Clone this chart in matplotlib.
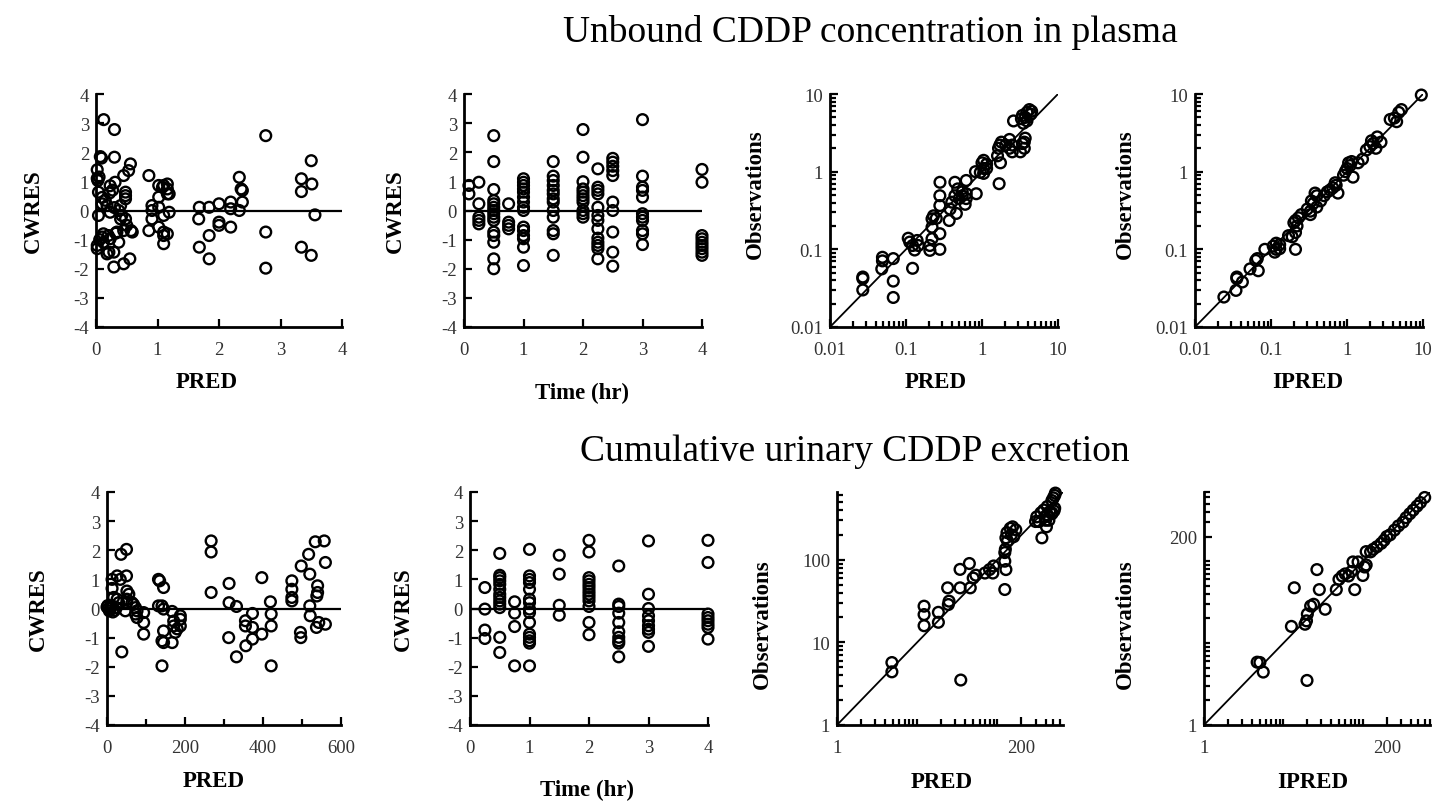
import numpy as np
import matplotlib.pyplot as plt
from matplotlib.ticker import LogLocator, NullFormatter

plt.rcParams['font.family'] = ['Liberation Serif', 'DejaVu Serif']
plt.rcParams['axes.unicode_minus'] = False

# ---- data ----
# top row: unbound CDDP in plasma
plasma_pred_cwres = [
    (0.125, 3.12), (0.30, 2.78), (0.07, 1.85), (0.09, 1.80), (0.30, 1.83), (0.02, 1.40),
    (0.02, 1.10), (0.03, 1.03), (0.05, 1.15), (0.04, 0.63), (0.10, 0.45), (0.10, 0.23),
    (0.04, -0.17), (0.23, 0.85), (0.31, 0.97), (0.45, 1.20), (0.56, 1.60), (0.53, 1.37),
    (0.48, 0.63), (0.48, 0.51), (0.48, 0.40), (0.40, 0.17), (0.37, 0.00), (0.42, -0.17),
    (0.40, -0.29), (0.23, -0.06), (0.18, 0.17), (0.02, -1.20), (0.02, -1.31), (0.10, -0.91),
    (0.12, -1.09), (0.20, -0.86), (0.23, -0.97), (0.18, -1.49), (0.21, -1.43), (0.29, -1.43),
    (0.29, -1.94), (0.45, -1.83), (0.55, -1.66), (0.37, -1.09), (0.34, -0.74), (0.32, -0.78),
    (0.45, -0.69), (0.57, -0.69), (0.59, -0.74), (0.48, -0.29), (0.50, -0.51), (0.15, 0.35),
    (0.22, 0.60), (0.27, 0.70), (0.30, 0.10), (0.12, -0.80), (0.06, -1.00),
    (0.86, 1.20), (0.86, -0.69), (0.91, 0.00), (0.91, 0.17), (0.91, -0.29), (1.02, 0.86),
    (1.02, 0.46), (1.02, 0.11), (1.08, 0.80), (1.10, 0.86), (1.16, 0.91), (1.16, 0.74),
    (1.16, 0.57), (1.19, 0.57), (1.10, -0.74), (1.10, -0.86), (1.10, -1.14), (1.16, -0.80),
    (1.10, -0.17), (1.19, -0.06), (1.02, -0.57), (1.68, 0.11), (1.67, -0.29), (1.68, -1.26),
    (1.84, 0.11), (1.84, -0.86), (1.84, -1.66), (2.00, 0.23), (2.00, -0.40), (2.00, -0.51),
    (2.19, 0.29), (2.19, 0.06), (2.19, -0.57), (2.33, 1.14), (2.36, 0.74), (2.38, 0.69),
    (2.38, 0.29), (2.33, 0.00), (2.76, 2.57), (2.76, -0.74), (2.76, -1.98), (3.34, 1.09),
    (3.34, 0.65), (3.34, -1.26), (3.50, 1.71), (3.51, 0.91), (3.50, -1.54), (3.56, -0.15),
]

plasma_time_cwres = [
    (0.083, 0.86), (0.083, 0.57),
    (0.25, 0.97), (0.25, 0.23), (0.25, -0.23), (0.25, -0.34), (0.25, -0.46),
    (0.5, 2.57), (0.5, 1.68), (0.5, 0.72), (0.5, 0.34), (0.5, 0.23), (0.5, 0.11), (0.5, 0.0),
    (0.5, -0.11), (0.5, -0.23), (0.5, -0.34), (0.5, -0.74), (0.5, -0.86), (0.5, -1.09),
    (0.5, -1.66), (0.5, -2.0),
    (0.75, 0.23), (0.75, -0.40), (0.75, -0.51), (0.75, -0.63),
    (1, 1.09), (1, 0.97), (1, 0.86), (1, 0.74), (1, 0.63), (1, 0.46), (1, 0.29), (1, 0.11),
    (1, 0.0), (1, -0.57), (1, -0.69), (1, -0.86), (1, -0.97), (1, -1.26), (1, -1.89),
    (1.5, 1.68), (1.5, 1.18), (1.5, 1.03), (1.5, 0.86), (1.5, 0.69), (1.5, 0.57), (1.5, 0.40),
    (1.5, 0.29), (1.5, 0.0), (1.5, -0.23), (1.5, -0.69), (1.5, -0.80), (1.5, -1.54),
    (2, 2.78), (2, 1.83), (2, 0.99), (2, 0.74), (2, 0.63), (2, 0.51), (2, 0.40), (2, 0.29),
    (2, 0.0), (2, -0.11), (2, -0.23),
    (2.25, 1.43), (2.25, 0.80), (2.25, 0.69), (2.25, 0.57), (2.25, 0.11), (2.25, -0.17),
    (2.25, -0.34), (2.25, -0.63), (2.25, -0.95), (2.25, -1.09), (2.25, -1.20), (2.25, -1.31),
    (2.25, -1.66),
    (2.5, 1.79), (2.5, 1.66), (2.5, 1.52), (2.5, 1.37), (2.5, 1.20), (2.5, 0.29), (2.5, 0.0),
    (2.5, -0.74), (2.5, -1.43), (2.5, -1.91),
    (3, 3.12), (3, 1.18), (3, 0.80), (3, 0.69), (3, 0.46), (3, -0.11), (3, -0.23), (3, -0.34),
    (3, -0.69), (3, -0.80), (3, -1.17),
    (4, 1.41), (4, 0.97), (4, -0.86), (4, -0.97), (4, -1.09), (4, -1.20), (4, -1.31),
    (4, -1.43), (4, -1.54),
]

plasma_pred_obs = [
    (0.027, 0.044), (0.027, 0.042), (0.027, 0.030), (0.049, 0.079), (0.049, 0.071),
    (0.048, 0.056), (0.068, 0.076), (0.068, 0.039), (0.068, 0.024), (0.122, 0.057),
    (0.107, 0.139), (0.112, 0.124), (0.122, 0.112), (0.14, 0.13), (0.145, 0.112), (0.13, 0.098),
    (0.206, 0.112), (0.206, 0.097), (0.22, 0.137), (0.22, 0.247), (0.22, 0.193), (0.23, 0.27),
    (0.25, 0.25), (0.279, 0.10), (0.279, 0.159), (0.279, 0.366), (0.279, 0.49), (0.28, 0.73),
    (0.37, 0.235), (0.38, 0.33), (0.40, 0.405), (0.44, 0.49), (0.48, 0.60), (0.44, 0.73),
    (0.46, 0.29), (0.50, 0.45), (0.55, 0.49), (0.55, 0.55), (0.62, 0.77), (0.62, 0.52),
    (0.60, 0.38), (0.62, 0.45), (0.84, 0.52), (0.82, 1.0), (0.95, 0.98), (1.05, 0.95),
    (1.05, 1.1), (1.15, 1.25), (1.05, 1.4), (1.15, 1.1), (1.0, 1.3), (1.68, 0.70), (1.75, 1.3),
    (1.6, 1.6), (1.65, 2.0), (1.72, 2.2), (1.8, 2.4), (2.05, 2.2), (2.3, 2.6), (2.5, 2.2),
    (2.3, 2.0), (2.5, 1.8), (3.2, 1.8), (3.4, 2.3), (3.6, 2.0), (3.6, 2.4), (3.7, 2.7),
    (2.6, 4.5), (3.3, 4.8), (3.5, 4.2), (3.7, 5.0), (3.9, 5.8), (4.2, 6.3), (3.4, 5.3),
    (3.9, 4.5), (4.4, 5.5), (4.5, 6.0),
]

plasma_ipred_obs = [
    (0.024, 0.0243), (0.0346, 0.0296), (0.0355, 0.042), (0.0355, 0.044), (0.042, 0.038),
    (0.053, 0.056), (0.068, 0.053), (0.066, 0.076), (0.063, 0.072), (0.083, 0.10),
    (0.107, 0.11), (0.117, 0.12), (0.13, 0.115), (0.117, 0.10), (0.13, 0.102), (0.112, 0.092),
    (0.17, 0.15), (0.19, 0.145), (0.21, 0.165), (0.20, 0.22), (0.21, 0.235), (0.23, 0.255),
    (0.22, 0.20), (0.21, 0.10), (0.25, 0.28), (0.30, 0.33), (0.33, 0.31), (0.36, 0.39),
    (0.40, 0.49), (0.38, 0.53), (0.34, 0.42), (0.33, 0.28), (0.40, 0.35), (0.45, 0.42),
    (0.50, 0.49), (0.55, 0.55), (0.60, 0.58), (0.65, 0.62), (0.70, 0.72), (0.76, 0.53),
    (0.72, 0.67), (0.9, 0.9), (1.0, 1.1), (1.1, 1.2), (0.95, 1.0), (1.05, 1.3), (1.2, 0.85),
    (1.15, 1.35), (1.4, 1.3), (1.6, 1.45), (1.8, 1.9), (2.0, 2.1), (2.1, 2.5), (2.2, 2.3),
    (2.5, 2.8), (2.4, 2.0), (2.8, 2.4), (3.7, 4.7), (4.2, 4.9), (4.8, 5.8), (5.2, 6.3),
    (4.5, 4.4), (9.5, 9.7),
]

# bottom row: cumulative urinary excretion
urine_pred_cwres = [
    (2, 0.10), (4, 0.0), (6, -0.08), (0, 0.05), (10, 0.02), (15, -0.12), (12, 0.10),
    (20, -0.06), (24, 0.03), (13, 1.00), (13, 0.69), (17, 0.38), (26, 0.32), (30, 0.20),
    (26, 1.12), (34, 1.00), (50, 1.12), (36, 1.86), (50, 2.03), (38, -1.49), (51, 0.60),
    (56, 0.49), (51, 0.32), (51, 0.20), (47, -0.08), (64, 0.20), (68, 0.14), (73, 0.03),
    (77, -0.08), (73, -0.19), (77, -0.31), (94, -0.14), (94, -0.48), (94, -0.88),
    (132, 1.00), (135, 0.95), (132, 0.09), (145, 0.72), (141, 0.09), (145, -0.02),
    (141, -1.11), (145, -1.17), (145, -0.77), (141, -1.97), (167, -0.10), (171, -0.43),
    (171, -0.60), (175, -0.82), (180, -0.70), (188, -0.37), (188, -0.25), (188, -0.60),
    (167, -1.17), (267, 2.32), (267, 1.94), (267, 0.55), (313, 0.86), (313, 0.20),
    (312, -1.00), (332, 0.07), (332, -1.66), (355, -0.42), (355, -0.60), (356, -1.28),
    (373, -0.17), (373, -0.65), (373, -1.05), (397, -0.88), (397, 1.06), (419, 0.23),
    (421, -0.19), (421, -0.60), (421, -1.97), (474, 0.95), (474, 0.66), (474, 0.38),
    (474, 0.26), (496, -0.82), (497, -1.00), (498, 1.46), (517, 1.86), (520, 1.18),
    (520, 0.09), (521, -0.25), (534, 2.29), (537, -0.65), (540, 0.78), (540, 0.55),
    (538, 0.43), (543, -0.48), (557, 2.32), (560, 1.58), (560, -0.54),
]

urine_time_cwres = [
    (0.25, 0.72), (0.25, -0.02), (0.25, -0.74), (0.25, -1.03),
    (0.5, 1.89), (0.5, 1.14), (0.5, 1.06), (0.5, 0.95), (0.5, 0.83), (0.5, 0.66), (0.5, 0.49),
    (0.5, 0.38), (0.5, 0.26), (0.5, 0.15), (0.5, 0.03), (0.5, -0.99), (0.5, -1.51),
    (0.75, 0.23), (0.75, -0.16), (0.75, -0.62), (0.75, -1.97),
    (1, 2.03), (1, 1.12), (1, 1.00), (1, 0.89), (1, 0.66), (1, 0.32), (1, 0.20), (1, -0.02),
    (1, -0.14), (1, -0.48), (1, -0.88), (1, -0.99), (1, -1.11), (1, -1.19), (1, -1.97),
    (1.5, 1.83), (1.5, 1.18), (1.5, 0.11), (1.5, -0.23),
    (2, 2.34), (2, 1.94), (2, 1.06), (2, 0.95), (2, 0.83), (2, 0.72), (2, 0.60), (2, 0.49),
    (2, 0.38), (2, 0.26), (2, 0.07), (2, -0.48), (2, -0.90),
    (2.5, 1.46), (2.5, 0.15), (2.5, 0.07), (2.5, -0.16), (2.5, -0.48), (2.5, -0.80),
    (2.5, -0.99), (2.5, -1.11), (2.5, -1.19), (2.5, -1.66),
    (3, 2.32), (3, 0.49), (3, 0.0), (3, -0.25), (3, -0.42), (3, -0.59), (3, -0.71),
    (3, -0.82), (3, -1.30),
    (4, 2.34), (4, 1.58), (4, -0.19), (4, -0.31), (4, -0.42), (4, -0.54), (4, -0.65),
    (4, -1.05),
]

urine_pred_obs = [
    (4.84, 5.7), (4.84, 4.4), (12.2, 27.4), (12.2, 21.7), (12.2, 15.9), (18.4, 23.1),
    (18.4, 17.5), (24, 45.7), (24.5, 28.7), (25, 31.5), (34.3, 76.4), (34.3, 45.7),
    (35, 3.5), (44.8, 90), (46, 45.7), (50, 60), (54, 65), (70, 69), (80, 76), (88, 69),
    (90, 84), (124, 122), (126, 134), (128, 184), (132, 213), (134, 168), (124, 96),
    (124, 43.6), (128, 76), (145, 240), (155, 250), (150, 200), (160, 190), (170, 230),
    (300, 290), (310, 330), (350, 370), (380, 400), (420, 440), (480, 520), (500, 560),
    (530, 640), (520, 600), (450, 380), (400, 300), (410, 250), (480, 370), (390, 330),
    (420, 350), (480, 360), (510, 390), (440, 300), (520, 420), (330, 290), (360, 184),
]

urine_ipred_obs = [
    (4.67, 5.85), (5.05, 5.8), (5.57, 4.43), (12.6, 16), (13.7, 47.4), (18.7, 17),
    (19.5, 18.7), (20, 22.6), (19.8, 3.5), (22, 28.4), (24, 29.8), (26.4, 79), (28.3, 45),
    (33.5, 25.9), (46.3, 45), (50, 60), (55, 66), (60, 70), (66, 66), (75, 98), (72, 75),
    (79, 45), (87, 98), (100, 67), (105, 85), (110, 90), (110, 131), (125, 130), (135, 140),
    (150, 150), (170, 165), (185, 180), (200, 200), (220, 210), (250, 240), (280, 270),
    (320, 300), (350, 340), (390, 380), (430, 420), (480, 470), (530, 520), (600, 600),
]

W, H = 1438, 803
fig = plt.figure(figsize=(W / 100, H / 100), dpi=100)


def box(l, r, t, b):
    return [l / W, 1 - b / H, (r - l) / W, (b - t) / H]


def fpos(x, y):
    return (x / W, 1 - y / H)


def base_style(ax, xlab, ylab, xlab_px, ylab_px):
    for s in ['top', 'right']:
        ax.spines[s].set_visible(False)
    for s in ['left', 'bottom']:
        ax.spines[s].set_linewidth(2.0)
    ax.tick_params(which='both', direction='in', width=1.6, labelsize=13.5,
                   labelcolor='#333333')
    ax.tick_params(which='major', length=6)
    ax.tick_params(which='minor', length=4)
    ax.tick_params(axis='x', which='both', pad=10)
    ax.tick_params(axis='y', which='both', pad=5)
    ax.set_xlabel(xlab, fontsize=16.5, fontweight='bold', va='center', ha='center')
    ax.set_ylabel(ylab, fontsize=16.5, fontweight='bold', va='center', ha='center')
    ax.xaxis.set_label_coords(*fpos(*xlab_px), transform=fig.transFigure)
    ax.yaxis.set_label_coords(*fpos(*ylab_px), transform=fig.transFigure)


def dots(ax, pts):
    pts = np.array(pts)
    ax.scatter(pts[:, 0], pts[:, 1], s=60, facecolors='none', edgecolors='black',
               linewidths=1.7, zorder=3, clip_on=False)


def resid_panel(rect, pts, xmax, xticks, xlabels, xminor, xlab, xlab_px, ylab_px):
    ax = fig.add_axes(rect)
    dots(ax, pts)
    ax.axhline(0, color='black', lw=1.6, zorder=2)
    ax.set_xlim(0, xmax)
    ax.set_ylim(-4, 4)
    ax.set_yticks(range(-4, 5))
    ax.set_xticks(xticks, xlabels)
    ax.set_xticks(xminor, minor=True)
    base_style(ax, xlab, 'CWRES', xlab_px, ylab_px)
    return ax


def obs_panel(rect, pts, lo, hi, xt, xl, yt, yl, xlab, xlab_px, ylab_px):
    ax = fig.add_axes(rect)
    ax.set_xscale('log')
    ax.set_yscale('log')
    ax.plot([lo, hi], [lo, hi], color='black', lw=1.3, zorder=2)
    dots(ax, pts)
    ax.set_xlim(lo, hi)
    ax.set_ylim(lo, hi)
    ax.set_xticks(xt, xl)
    ax.set_yticks(yt, yl)
    for axis in (ax.xaxis, ax.yaxis):
        axis.set_minor_locator(LogLocator(base=10, subs=range(1, 10), numticks=20))
        axis.set_minor_formatter(NullFormatter())
    base_style(ax, xlab, 'Observations', xlab_px, ylab_px)
    return ax


# ---- top row ----
resid_panel(box(96, 342, 95, 328), plasma_pred_cwres, 4, range(5),
            ['0', '1', '2', '3', '4'], [], 'PRED', (207, 383), (33, 211))
resid_panel(box(464, 702, 95, 328), plasma_time_cwres, 4, range(5),
            ['0', '1', '2', '3', '4'], [], 'Time (hr)', (582, 393), (395, 211))
dec = [0.01, 0.1, 1, 10]
dec_lab = ['0.01', '0.1', '1', '10']
obs_panel(box(830, 1058, 95, 328), plasma_pred_obs, 0.01, 10, dec, dec_lab, dec, dec_lab,
          'PRED', (936, 383), (755, 194))
obs_panel(box(1195, 1423, 95, 328), plasma_ipred_obs, 0.01, 10, dec, dec_lab, dec, dec_lab,
          'IPRED', (1308, 383), (1125, 194))

# ---- bottom row ----
resid_panel(box(107, 341, 493, 726), urine_pred_cwres, 600, [0, 200, 400, 600],
            ['0', '200', '400', '600'], [100, 300, 500], 'PRED', (214, 782), (38, 609))
resid_panel(box(470, 708, 493, 726), urine_time_cwres, 4, range(5),
            ['0', '1', '2', '3', '4'], [], 'Time (hr)', (587, 790), (403, 609))
obs_panel(box(837, 1063, 493, 726), urine_pred_obs, 1, 660, [1, 200], ['1', '200'],
          [1, 10, 100], ['1', '10', '100'], 'PRED', (942, 783), (762, 624))
obs_panel(box(1204, 1430, 493, 726), urine_ipred_obs, 1, 700, [1, 200], ['1', '200'],
          [1, 200], ['1', '200'], 'IPRED', (1313, 783), (1125, 624))

fig.text(*fpos(870, 32), 'Unbound CDDP concentration in plasma', ha='center', va='center',
         fontsize=27)
fig.text(*fpos(855, 452), 'Cumulative urinary CDDP excretion', ha='center', va='center',
         fontsize=27)

fig.savefig('out.png', dpi=100)
